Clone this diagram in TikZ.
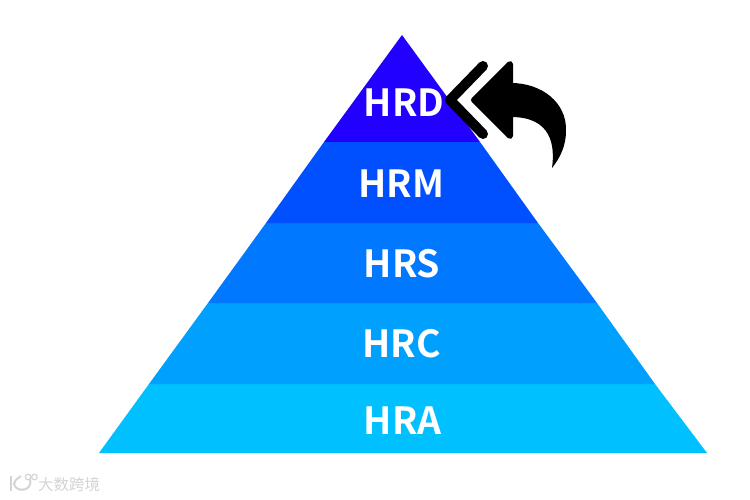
\documentclass[tikz,border=0pt]{standalone}
\usepackage{fontspec}
\setmainfont{Noto Sans}
\newfontfamily\cjk{Noto Sans CJK SC}
\newfontfamily\labfont{Noto Sans CJK SC Bold}
\definecolor{lay1}{HTML}{2200FF}
\definecolor{lay2}{HTML}{0050FF}
\definecolor{lay3}{HTML}{0078FF}
\definecolor{lay4}{HTML}{00A0FF}
\definecolor{lay5}{HTML}{00C0FF}
\definecolor{wm}{HTML}{D4D4D4}
\tikzset{
  lab/.style={text=white,font=\labfont\fontsize{37.4}{37.4}\selectfont,inner sep=0pt,anchor=base},
  wmline/.style={draw=wm,line width=2pt,fill=none}
}
\begin{document}
\begin{tikzpicture}[x=1pt,y=-1pt]
\useasboundingbox (0,0) rectangle (750,500);
\fill[white] (0,0) rectangle (750,500);
% layers
\fill[lay5] (149,384) -- (655,384) -- (707,453) -- (99,453) -- cycle;
\fill[lay4] (208,303) -- (597,303) -- (655,384) -- (149,384) -- cycle;
\fill[lay3] (266,223) -- (538,223) -- (597,303) -- (208,303) -- cycle;
\fill[lay2] (324,142) -- (480,142) -- (538,223) -- (266,223) -- cycle;
\fill[lay1] (402,35) -- (480,142) -- (324,142) -- cycle;
% labels
\node[lab] (hrd) at (404,117) {HRD};
\node[lab] (hrm) at (401.5,197) {HRM};
\node[lab] (hrs) at (402,277) {HRS};
\node[lab] (hrc) at (401.5,357) {HRC};
\node[lab] (hra) at (402.5,434) {HRA};
% undo-all icon
\draw[black,line width=10pt,line cap=round,line join=round] (483,66) -- (450,100) -- (483,134);
\fill[black,draw=black,line width=6pt,line join=round] (474,100) -- (510,64) -- (510,136) -- cycle;
\fill[black] (511,83) .. controls (541,83) and (567,102) .. (566,131)
  .. controls (566,146) and (560,158) .. (552,168)
  .. controls (555,146) and (552,117) .. (511,117) -- cycle;
% watermark
\draw[wmline] (11,476) -- (11,491);
\draw[wmline] (21,476) .. controls (15,480) and (14,482) .. (14,484) .. controls (15,489) and (21,491) .. (26,489) .. controls (30,487) and (31,483) .. (30,479);
\draw[wmline,line width=1.2pt] (28,477) circle (2.8);
\draw[wmline,line width=1.2pt] (28,477) ++(6.5,0) circle (2.8);
\node[inner sep=0pt,text=wm,font=\cjk\fontsize{15.5}{15.5}\selectfont,anchor=west] (wmtext) at (38,485) {大数跨境};
\end{tikzpicture}
\end{document}
